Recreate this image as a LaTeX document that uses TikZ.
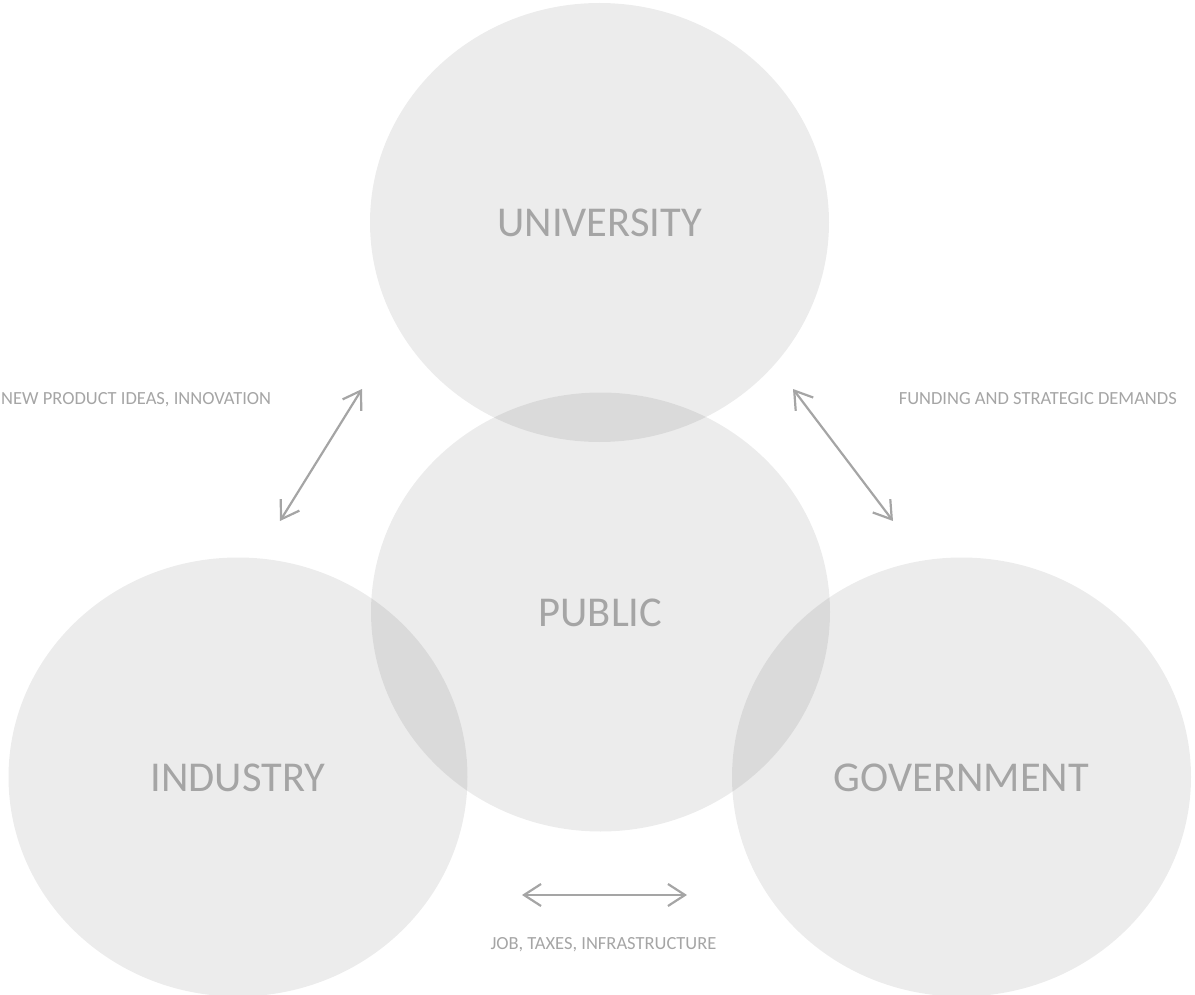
\documentclass[tikz,border=0pt]{standalone}
\usepackage{fontspec}
\setmainfont{Carlito}
\usetikzlibrary{shapes.geometric,arrows.meta}
\definecolor{txtgray}{RGB}{165,165,165}
\definecolor{arrgray}{RGB}{165,165,165}
\tikzset{
  blob/.style={ellipse, fill=black, fill opacity=0.075, draw=none, inner sep=0pt,
    minimum width=459pt, minimum height=439pt, text opacity=1, text=txtgray,
    text height=28pt, text depth=0pt,
    font=\fontsize{42.5}{46}\selectfont},
  lbl/.style={text=txtgray, font=\fontsize{18.5}{22}\selectfont, inner sep=0pt},
  barb/.tip={Straight Barb[length=17pt,width=22pt,line width=2.2pt]},
  link/.style={draw=arrgray, line width=2.2pt, barb-barb}
}
\begin{document}
\begin{tikzpicture}[x=1pt,y=-1pt]
\useasboundingbox (0,0) rectangle (1195,995);
\node[blob] (uni) at (599.5,222.5) {UNIVERSITY};
\node[blob] (pub) at (600.5,612) {PUBLIC};
\node[blob] (ind) at (238,777) {INDUSTRY};
\node[blob] (gov) at (961.5,777) {GOVERNMENT};
\node[lbl, anchor=base west] (l1) at (1,404) {NEW PRODUCT IDEAS, INNOVATION};
\node[lbl, anchor=base east] (l2) at (1177,404) {FUNDING AND STRATEGIC DEMANDS};
\node[lbl, anchor=base] (l3) at (603.5,949) {JOB, TAXES, INFRASTRUCTURE};
\coordinate (a1s) at (280,521);
\coordinate (a1e) at (362,389);
\coordinate (a2s) at (793,389);
\coordinate (a2e) at (893,521);
\coordinate (a3s) at (522,895);
\coordinate (a3e) at (687,895);
\draw[link] (a1s) -- (a1e);
\draw[link] (a2s) -- (a2e);
\draw[link] (a3s) -- (a3e);
\end{tikzpicture}
\end{document}
